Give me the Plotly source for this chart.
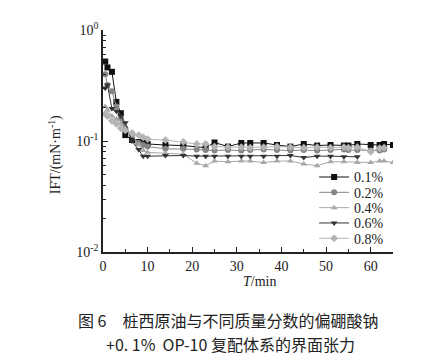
import plotly.graph_objects as go

# time points (min)
T = [0.5, 1, 2, 3, 4, 5, 6.5, 8, 9, 10, 14, 18, 21, 23, 25, 28, 31, 33, 36, 39,
     42, 45, 48, 51, 54, 55, 57, 60, 62, 63, 65]

ift_01 = [0.52, 0.46, 0.42, 0.225, 0.178, 0.113, 0.102, 0.098, 0.096, 0.094,
          0.092, 0.091, None, 0.087, 0.097, 0.089, 0.096, 0.096, 0.096, 0.092,
          0.089, 0.094, 0.091, 0.092, 0.091, 0.091, 0.094, 0.092, 0.092, 0.094, 0.092]
ift_02 = [0.40, 0.32, 0.28, 0.205, 0.16, 0.13, 0.113, 0.096, 0.092, 0.089,
          0.085, 0.085, 0.084, 0.083, 0.082, 0.083, 0.082, 0.083, 0.084, 0.083,
          0.082, 0.083, 0.082, 0.083, 0.084, 0.083, 0.083, 0.082, 0.082, 0.084]
ift_04 = [0.205, 0.19, 0.168, 0.158, 0.143, 0.125, 0.113, 0.092, 0.082, 0.079,
          0.077, 0.076, 0.063, 0.060, 0.066, 0.065, 0.066, 0.066, 0.064, 0.066,
          0.066, 0.062, 0.060, 0.065, 0.065, None, 0.064, 0.064, 0.066, 0.066, 0.064]
ift_06 = [0.30, 0.32, 0.196, 0.185, 0.168, 0.146, 0.10, 0.084, 0.073, 0.073,
          0.074, 0.074, 0.073, 0.073, 0.073, 0.073, 0.073, 0.073, 0.073, 0.073,
          0.074, 0.071, 0.073, 0.073, 0.072, None, 0.072]
ift_08 = [0.175, 0.168, 0.152, 0.143, 0.13, 0.125, 0.118, 0.113, 0.108, 0.104,
          0.102, 0.098, 0.094, 0.094, 0.089, 0.088, 0.088, 0.087, 0.088, 0.089,
          0.088, 0.087, 0.088, 0.087, 0.088, 0.087, 0.088, 0.080, 0.086, 0.087]

series_names = ["0.1%", "0.2%", "0.4%", "0.6%", "0.8%"]
series_vals = [ift_01, ift_02, ift_04, ift_06, ift_08]
colors = ["#111111", "#858585", "#a8a8a8", "#333333", "#b4b4b4"]
symbols = ["square", "circle", "triangle-up", "triangle-down", "diamond"]

y_tickvals = [1, 0.1, 0.01]
y_ticktext = ["10<sup>0</sup>", "10<sup>-1</sup>", "10<sup>-2</sup>"]

serif = "Liberation Serif, Times New Roman, serif"
cjk = "Noto Sans CJK SC"

legend_names = ["legend", "legend2", "legend3", "legend4", "legend5"]

fig = go.Figure()
for name, vals, c, s, lg in zip(series_names, series_vals, colors, symbols, legend_names):
    fig.add_trace(go.Scatter(
        x=T[:len(vals)], y=vals, name=name, mode="lines+markers",
        connectgaps=True, legend=lg,
        line=dict(color=c, width=1),
        marker=dict(symbol=s, size=6, color=c),
    ))

legend_layout = {}
for i, lg in enumerate(legend_names):
    legend_layout[lg] = dict(
        x=0.728, y=0.336 - i * 0.069, xanchor="left", yanchor="middle",
        bgcolor="rgba(0,0,0,0)", font=dict(family=serif, size=14, color="#222"),
        itemwidth=30)

fig.update_layout(
    width=425, height=354,
    margin=dict(l=95, r=40, t=12, b=110),
    paper_bgcolor="white", plot_bgcolor="white",
    font=dict(family=serif, size=14, color="#222"),
    showlegend=True,
    **legend_layout,
    xaxis=dict(range=[0, 65], tickmode="linear", tick0=0, dtick=10,
               ticks="inside", ticklen=5,
               tickwidth=1, tickcolor="#222", showline=True, linecolor="#222",
               linewidth=1.5, showgrid=False, zeroline=False,
               tickfont=dict(family=serif, size=14),
               minor=dict(dtick=5, tick0=0, ticks="inside", ticklen=3,
                          tickcolor="#222", showgrid=False)),
    yaxis=dict(type="log", range=[-2, 0], tickvals=y_tickvals, ticktext=y_ticktext,
               ticks="inside", ticklen=5, tickwidth=1, tickcolor="#222",
               showline=True, linecolor="#222", linewidth=1.5, showgrid=False,
               zeroline=False, tickfont=dict(family=serif, size=14),
               minor=dict(dtick="D1", ticks="inside", ticklen=3,
                          tickcolor="#222", showgrid=False)),
    annotations=[
        dict(text="IFT/(mN·m<sup>-1</sup>)", xref="paper", yref="paper",
             x=-0.166, y=0.44, xanchor="center", yanchor="middle",
             textangle=-90, showarrow=False,
             font=dict(family=serif, size=14)),
        dict(text="<i>T</i>/min", xref="paper", yref="paper", x=0.541, y=-0.134,
             xanchor="center", yanchor="middle",
             showarrow=False, font=dict(family=serif, size=14)),
        dict(text="图 6　桩西原油与不同质量分数的偏硼酸钠", xref="paper", yref="paper",
             x=0.431, y=-0.308, xanchor="center", yanchor="middle", showarrow=False,
             font=dict(family=cjk, size=16, color="#222")),
        dict(text="+0. 1%  OP-10 复配体系的界面张力", xref="paper", yref="paper",
             x=0.438, y=-0.414, xanchor="center", yanchor="middle", showarrow=False,
             font=dict(family=cjk, size=16, color="#222")),
    ],
)

fig.write_html("out.html")
